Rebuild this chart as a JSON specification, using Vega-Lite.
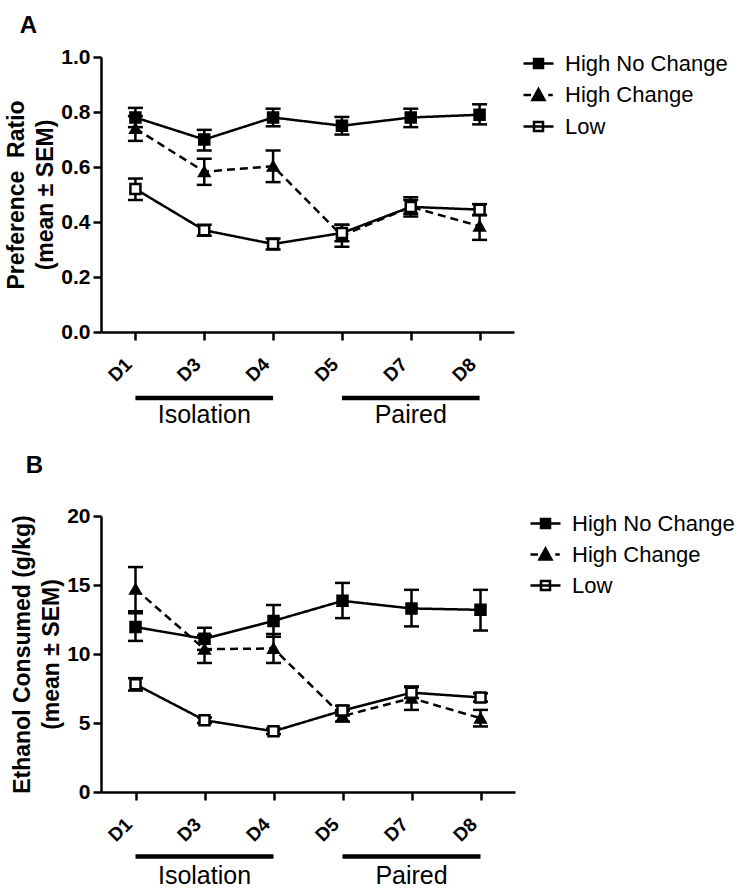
{
  "$schema": "https://vega.github.io/schema/vega-lite/v6.json",
  "padding": {"top": 14, "left": 5, "right": 5, "bottom": 5},
  "config": {
    "view": {"stroke": null},
    "font": "Liberation Sans",
    "axis": {
      "domainColor": "black", "domainWidth": 2.5, "tickColor": "black", "tickWidth": 2.5, "tickSize": 8,
      "grid": false, "labelColor": "black", "titleColor": "black", "labelFontWeight": "bold", "titleFontWeight": "bold",
      "labelFont": "Liberation Sans", "titleFont": "Liberation Sans"
    },
    "axisX": {"labelAngle": -45, "labelFontSize": 19, "labelPadding": 28, "labelBaseline": "bottom"},
    "axisY": {"labelFontSize": 21, "titleFontSize": 23, "titleLineHeight": 29, "labelPadding": 3, "titlePadding": 3},
    "title": {"fontSize": 24, "fontWeight": "bold", "anchor": "start", "color": "black", "font": "Liberation Sans"}
  },
  "datasets": {
    "pref": [
      {"day": "D1", "group": "High No Change", "mean": 0.78, "lo": 0.745, "hi": 0.815},
      {"day": "D3", "group": "High No Change", "mean": 0.70, "lo": 0.66, "hi": 0.735},
      {"day": "D4", "group": "High No Change", "mean": 0.78, "lo": 0.748, "hi": 0.812},
      {"day": "D5", "group": "High No Change", "mean": 0.75, "lo": 0.718, "hi": 0.782},
      {"day": "D7", "group": "High No Change", "mean": 0.78, "lo": 0.745, "hi": 0.812},
      {"day": "D8", "group": "High No Change", "mean": 0.79, "lo": 0.755, "hi": 0.828},
      {"day": "D1", "group": "High Change", "mean": 0.74, "lo": 0.695, "hi": 0.785},
      {"day": "D3", "group": "High Change", "mean": 0.583, "lo": 0.535, "hi": 0.63},
      {"day": "D4", "group": "High Change", "mean": 0.603, "lo": 0.545, "hi": 0.66},
      {"day": "D5", "group": "High Change", "mean": 0.35, "lo": 0.31, "hi": 0.39},
      {"day": "D7", "group": "High Change", "mean": 0.455, "lo": 0.42, "hi": 0.49},
      {"day": "D8", "group": "High Change", "mean": 0.385, "lo": 0.335, "hi": 0.425},
      {"day": "D1", "group": "Low", "mean": 0.52, "lo": 0.48, "hi": 0.558},
      {"day": "D3", "group": "Low", "mean": 0.37, "lo": 0.35, "hi": 0.39},
      {"day": "D4", "group": "Low", "mean": 0.32, "lo": 0.30, "hi": 0.34},
      {"day": "D5", "group": "Low", "mean": 0.36, "lo": 0.33, "hi": 0.39},
      {"day": "D7", "group": "Low", "mean": 0.455, "lo": 0.43, "hi": 0.48},
      {"day": "D8", "group": "Low", "mean": 0.445, "lo": 0.425, "hi": 0.465}
    ],
    "etoh": [
      {"day": "D1", "group": "High No Change", "mean": 11.95, "lo": 10.95, "hi": 12.95},
      {"day": "D3", "group": "High No Change", "mean": 11.1, "lo": 10.3, "hi": 11.9},
      {"day": "D4", "group": "High No Change", "mean": 12.4, "lo": 11.25, "hi": 13.55},
      {"day": "D5", "group": "High No Change", "mean": 13.85, "lo": 12.6, "hi": 15.15},
      {"day": "D7", "group": "High No Change", "mean": 13.3, "lo": 12.0, "hi": 14.65},
      {"day": "D8", "group": "High No Change", "mean": 13.2, "lo": 11.7, "hi": 14.65},
      {"day": "D1", "group": "High Change", "mean": 14.7, "lo": 13.1, "hi": 16.3},
      {"day": "D3", "group": "High Change", "mean": 10.35, "lo": 9.35, "hi": 11.35},
      {"day": "D4", "group": "High Change", "mean": 10.4, "lo": 9.35, "hi": 11.45},
      {"day": "D5", "group": "High Change", "mean": 5.5, "lo": 5.1, "hi": 5.9},
      {"day": "D7", "group": "High Change", "mean": 6.8, "lo": 5.95, "hi": 7.65},
      {"day": "D8", "group": "High Change", "mean": 5.35, "lo": 4.75, "hi": 5.95},
      {"day": "D1", "group": "Low", "mean": 7.8, "lo": 7.35, "hi": 8.25},
      {"day": "D3", "group": "Low", "mean": 5.2, "lo": 5.0, "hi": 5.4},
      {"day": "D4", "group": "Low", "mean": 4.4, "lo": 4.2, "hi": 4.6},
      {"day": "D5", "group": "Low", "mean": 5.9, "lo": 5.55, "hi": 6.25},
      {"day": "D7", "group": "Low", "mean": 7.2, "lo": 6.8, "hi": 7.6},
      {"day": "D8", "group": "Low", "mean": 6.85, "lo": 6.55, "hi": 7.15}
    ],
    "phases": [
      {"label": "Isolation", "start": "D1", "mid": "D3", "end": "D4"},
      {"label": "Paired", "start": "D5", "mid": "D7", "end": "D8"}
    ]
  },
  "spacing": 25,
  "vconcat": [
    {
      "title": {"text": "A", "dx": 14, "offset": 8},
      "width": 413, "height": 275,
      "data": {"name": "pref"},
      "resolve": {"scale": {"shape": "independent", "fill": "independent", "stroke": "independent"}},
      "layer": [
        {
          "mark": {"type": "line", "color": "black", "strokeWidth": 2.5},
          "encoding": {
            "x": {"field": "day", "type": "ordinal", "scale": {"type": "point", "padding": 0.5, "domain": ["D1","D3","D4","D5","D7","D8"]}, "title": null},
            "y": {"field": "mean", "type": "quantitative", "scale": {"domain": [0, 1]}, "title": ["Preference\u00a0\u00a0Ratio", "(mean ± SEM)"], "axis": {"values": [0, 0.2, 0.4, 0.6, 0.8, 1.0], "format": ".1f"}},
            "strokeDash": {"field": "group", "type": "nominal", "scale": {"domain": ["High No Change", "High Change", "Low"], "range": [[1, 0], [8, 5], [1, 0]]}, "legend": null},
            "detail": {"field": "group", "type": "nominal"}
          }
        },
        {
          "mark": {"type": "errorbar", "color": "black", "ticks": {"size": 15, "thickness": 2.5, "color": "black", "opacity": 1}, "rule": {"strokeWidth": 2.5, "color": "black", "opacity": 1}},
          "encoding": {
            "x": {"field": "day", "type": "ordinal", "scale": {"type": "point", "padding": 0.5, "domain": ["D1","D3","D4","D5","D7","D8"]}, "title": null},
            "y": {"field": "lo", "type": "quantitative", "scale": {"domain": [0, 1]}, "title": ["Preference\u00a0\u00a0Ratio", "(mean ± SEM)"]},
            "y2": {"field": "hi"},
            "detail": {"field": "group", "type": "nominal"}
          }
        },
        {
          "mark": {"type": "point", "stroke": "black", "strokeWidth": 2.5, "size": 100, "opacity": 1},
          "encoding": {
            "x": {"field": "day", "type": "ordinal", "scale": {"type": "point", "padding": 0.5, "domain": ["D1","D3","D4","D5","D7","D8"]}, "title": null},
            "y": {"field": "mean", "type": "quantitative", "scale": {"domain": [0, 1]}, "title": ["Preference\u00a0\u00a0Ratio", "(mean ± SEM)"]},
            "shape": {"field": "group", "type": "nominal", "scale": {"domain": ["High No Change", "High Change", "Low"], "range": ["square", "triangle-up", "square"]}, "legend": null},
            "fill": {"field": "group", "type": "nominal", "scale": {"domain": ["High No Change", "High Change", "Low"], "range": ["black", "black", "white"]}, "legend": null}
          }
        },
        {
          "mark": {"type": "point", "strokeWidth": 2.5, "size": 0, "opacity": 1},
          "encoding": {
            "x": {"field": "day", "type": "ordinal", "scale": {"type": "point", "padding": 0.5, "domain": ["D1","D3","D4","D5","D7","D8"]}, "title": null},
            "y": {"field": "mean", "type": "quantitative", "scale": {"domain": [0, 1]}, "title": ["Preference\u00a0\u00a0Ratio", "(mean ± SEM)"]},
            "shape": {"field": "group", "type": "nominal", "scale": {"domain": ["High No Change", "High Change", "Low"], "range": ["M-1,0H1M-0.3,-0.3H0.3V0.3H-0.3Z", "M-1,0H-0.5M-0.4,0.33L0,-0.4L0.4,0.33ZM0.65,0H0.95", "M-1,0H1M-0.3,-0.3H0.3V0.3H-0.3Z"]},
              "legend": {"title": null, "orient": "none", "legendX": 421, "legendY": -10, "padding": 0, "rowPadding": 3.5, "symbolSize": 900, "symbolStrokeWidth": 2.5, "symbolOpacity": 1, "labelFontSize": 22, "labelLimit": 400, "labelColor": "black", "labelFont": "Liberation Sans", "labelOffset": 10}},
            "fill": {"field": "group", "type": "nominal", "scale": {"domain": ["High No Change", "High Change", "Low"], "range": ["black", "black", "white"]},
              "legend": {"title": null, "orient": "none", "legendX": 421, "legendY": -10, "padding": 0, "rowPadding": 3.5, "symbolSize": 900, "symbolStrokeWidth": 2.5, "symbolOpacity": 1, "labelFontSize": 22, "labelLimit": 400, "labelColor": "black", "labelFont": "Liberation Sans", "labelOffset": 10}},
            "stroke": {"field": "group", "type": "nominal", "scale": {"domain": ["High No Change", "High Change", "Low"], "range": ["black", "black", "black"]},
              "legend": {"title": null, "orient": "none", "legendX": 421, "legendY": -10, "padding": 0, "rowPadding": 3.5, "symbolSize": 900, "symbolStrokeWidth": 2.5, "symbolOpacity": 1, "labelFontSize": 22, "labelLimit": 400, "labelColor": "black", "labelFont": "Liberation Sans", "labelOffset": 10}}
          }
        },
        {
          "data": {"name": "phases"},
          "mark": {"type": "rule", "color": "black", "strokeWidth": 4.5},
          "encoding": {
            "x": {"field": "start", "type": "ordinal", "scale": {"type": "point", "padding": 0.5, "domain": ["D1","D3","D4","D5","D7","D8"]}, "title": null},
            "x2": {"field": "end"},
            "y": {"datum": -0.24, "type": "quantitative"}
          }
        },
        {
          "data": {"name": "phases"},
          "mark": {"type": "text", "fontSize": 25, "baseline": "alphabetic", "align": "center", "color": "black", "font": "Liberation Sans"},
          "encoding": {
            "x": {"field": "mid", "type": "ordinal", "scale": {"type": "point", "padding": 0.5, "domain": ["D1","D3","D4","D5","D7","D8"]}, "title": null},
            "y": {"datum": -0.331, "type": "quantitative"},
            "text": {"field": "label"}
          }
        }
      ]
    },
    {
      "title": {"text": "B", "dx": 14, "offset": 27},
      "width": 414, "height": 276,
      "data": {"name": "etoh"},
      "resolve": {"scale": {"shape": "independent", "fill": "independent", "stroke": "independent"}},
      "layer": [
        {
          "mark": {"type": "line", "color": "black", "strokeWidth": 2.5},
          "encoding": {
            "x": {"field": "day", "type": "ordinal", "scale": {"type": "point", "padding": 0.5, "domain": ["D1","D3","D4","D5","D7","D8"]}, "title": null},
            "y": {"field": "mean", "type": "quantitative", "scale": {"domain": [0, 20]}, "title": ["Ethanol Consumed (g/kg)", "(mean ± SEM)"], "axis": {"values": [0, 5, 10, 15, 20]}},
            "strokeDash": {"field": "group", "type": "nominal", "scale": {"domain": ["High No Change", "High Change", "Low"], "range": [[1, 0], [8, 5], [1, 0]]}, "legend": null},
            "detail": {"field": "group", "type": "nominal"}
          }
        },
        {
          "mark": {"type": "errorbar", "color": "black", "ticks": {"size": 15, "thickness": 2.5, "color": "black", "opacity": 1}, "rule": {"strokeWidth": 2.5, "color": "black", "opacity": 1}},
          "encoding": {
            "x": {"field": "day", "type": "ordinal", "scale": {"type": "point", "padding": 0.5, "domain": ["D1","D3","D4","D5","D7","D8"]}, "title": null},
            "y": {"field": "lo", "type": "quantitative", "scale": {"domain": [0, 20]}, "title": ["Ethanol Consumed (g/kg)", "(mean ± SEM)"]},
            "y2": {"field": "hi"},
            "detail": {"field": "group", "type": "nominal"}
          }
        },
        {
          "mark": {"type": "point", "stroke": "black", "strokeWidth": 2.5, "size": 100, "opacity": 1},
          "encoding": {
            "x": {"field": "day", "type": "ordinal", "scale": {"type": "point", "padding": 0.5, "domain": ["D1","D3","D4","D5","D7","D8"]}, "title": null},
            "y": {"field": "mean", "type": "quantitative", "scale": {"domain": [0, 20]}, "title": ["Ethanol Consumed (g/kg)", "(mean ± SEM)"]},
            "shape": {"field": "group", "type": "nominal", "scale": {"domain": ["High No Change", "High Change", "Low"], "range": ["square", "triangle-up", "square"]}, "legend": null},
            "fill": {"field": "group", "type": "nominal", "scale": {"domain": ["High No Change", "High Change", "Low"], "range": ["black", "black", "white"]}, "legend": null}
          }
        },
        {
          "mark": {"type": "point", "strokeWidth": 2.5, "size": 0, "opacity": 1},
          "encoding": {
            "x": {"field": "day", "type": "ordinal", "scale": {"type": "point", "padding": 0.5, "domain": ["D1","D3","D4","D5","D7","D8"]}, "title": null},
            "y": {"field": "mean", "type": "quantitative", "scale": {"domain": [0, 20]}, "title": ["Ethanol Consumed (g/kg)", "(mean ± SEM)"]},
            "shape": {"field": "group", "type": "nominal", "scale": {"domain": ["High No Change", "High Change", "Low"], "range": ["M-1,0H1M-0.3,-0.3H0.3V0.3H-0.3Z", "M-1,0H-0.5M-0.4,0.33L0,-0.4L0.4,0.33ZM0.65,0H0.95", "M-1,0H1M-0.3,-0.3H0.3V0.3H-0.3Z"]},
              "legend": {"title": null, "orient": "none", "legendX": 428, "legendY": -9, "padding": 0, "rowPadding": 3, "symbolSize": 900, "symbolStrokeWidth": 2.5, "symbolOpacity": 1, "labelFontSize": 22, "labelLimit": 400, "labelColor": "black", "labelFont": "Liberation Sans", "labelOffset": 10}},
            "fill": {"field": "group", "type": "nominal", "scale": {"domain": ["High No Change", "High Change", "Low"], "range": ["black", "black", "white"]},
              "legend": {"title": null, "orient": "none", "legendX": 428, "legendY": -9, "padding": 0, "rowPadding": 3, "symbolSize": 900, "symbolStrokeWidth": 2.5, "symbolOpacity": 1, "labelFontSize": 22, "labelLimit": 400, "labelColor": "black", "labelFont": "Liberation Sans", "labelOffset": 10}},
            "stroke": {"field": "group", "type": "nominal", "scale": {"domain": ["High No Change", "High Change", "Low"], "range": ["black", "black", "black"]},
              "legend": {"title": null, "orient": "none", "legendX": 428, "legendY": -9, "padding": 0, "rowPadding": 3, "symbolSize": 900, "symbolStrokeWidth": 2.5, "symbolOpacity": 1, "labelFontSize": 22, "labelLimit": 400, "labelColor": "black", "labelFont": "Liberation Sans", "labelOffset": 10}}
          }
        },
        {
          "data": {"name": "phases"},
          "mark": {"type": "rule", "color": "black", "strokeWidth": 4.5},
          "encoding": {
            "x": {"field": "start", "type": "ordinal", "scale": {"type": "point", "padding": 0.5, "domain": ["D1","D3","D4","D5","D7","D8"]}, "title": null},
            "x2": {"field": "end"},
            "y": {"datum": -4.68, "type": "quantitative"}
          }
        },
        {
          "data": {"name": "phases"},
          "mark": {"type": "text", "fontSize": 25, "baseline": "alphabetic", "align": "center", "color": "black", "font": "Liberation Sans"},
          "encoding": {
            "x": {"field": "mid", "type": "ordinal", "scale": {"type": "point", "padding": 0.5, "domain": ["D1","D3","D4","D5","D7","D8"]}, "title": null},
            "y": {"datum": -6.64, "type": "quantitative"},
            "text": {"field": "label"}
          }
        }
      ]
    }
  ],
  "resolve": {"scale": {"y": "independent", "shape": "independent", "fill": "independent", "stroke": "independent", "strokeDash": "independent"}}
}
